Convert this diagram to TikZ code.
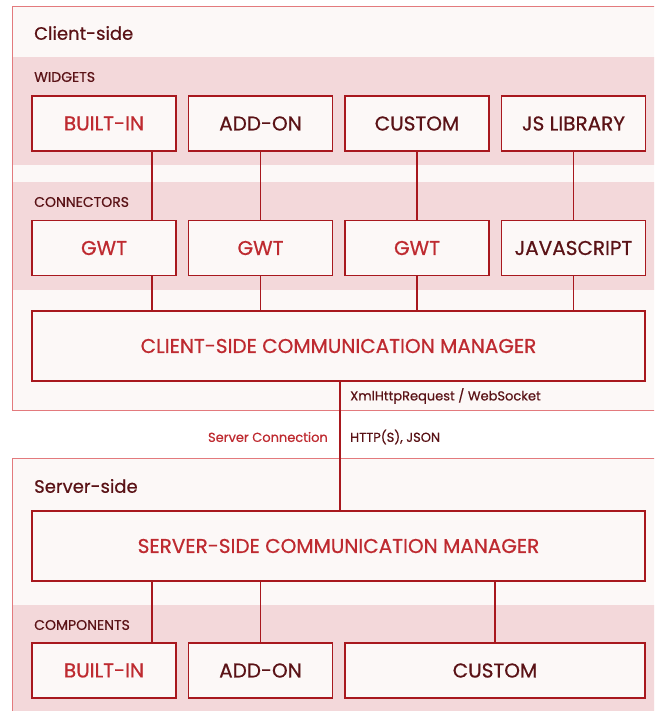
\documentclass[tikz,border=0pt]{standalone}
\usepackage{fontspec}
\setmainfont{Poppins}[FakeBold=0.6]
\usepackage{tikz}
\usetikzlibrary{positioning, calc}

\definecolor{vred}{HTML}{A8181E}
\definecolor{vtxt}{HTML}{BE2A30}
\definecolor{vdark}{HTML}{5A1216}
\definecolor{vpink}{HTML}{F3D8DA}
\definecolor{vpaper}{HTML}{FCF8F7}
\definecolor{vedge}{HTML}{E37A7D}

\tikzset{
  part/.style={draw=vred, line width=1.8pt, fill=vpaper, minimum height=55pt,
    inner sep=0pt, font=\fontsize{20}{22}\selectfont},
  manager/.style={part, minimum width=613pt, minimum height=70pt, text=vtxt},
  band/.style={fill=vpink},
  zone/.style={draw=vedge, line width=1pt, fill=vpaper},
  link/.style={draw=vred, line width=1.9pt},
  tag/.style={anchor=west, text=vdark, inner sep=0pt, font=\fontsize{14}{16}\selectfont},
  title/.style={anchor=west, text=vdark, inner sep=0pt, font=\fontsize{18}{20}\selectfont},
  note/.style={inner sep=0pt, text=vdark, font=\fontsize{13}{15}\selectfont}
}

\begin{document}
\begin{tikzpicture}[x=1pt, y=-1pt]
\useasboundingbox (0,0) rectangle (654,711);
\clip (0,0) rectangle (654,711);

% Client side area
\draw[zone] (12,7) rectangle (670,410);
\fill[band] (12.5,57) rectangle (670,165);
\fill[band] (12.5,182) rectangle (670,290);
\node[title] (clienttitle) at (34,33) {Client-side};
\node[tag] (widgetstag) at (34,77) {WIDGETS};
\node[tag] (connectorstag) at (34,202) {CONNECTORS};

% Widgets
\node[part, minimum width=144pt, text=vtxt] (wbuiltin) at (104,123.5) {BUILT-IN};
\node[part, minimum width=144pt, text=vdark] (waddon) at (260.5,123.5) {ADD-ON};
\node[part, minimum width=144pt, text=vdark] (wcustom) at (417,123.5) {CUSTOM};
\node[part, minimum width=144pt, text=vdark] (wjslib) at (573.5,123.5) {JS LIBRARY};

% Connectors
\node[part, minimum width=144pt, text=vtxt] (cgwta) at (104,248) {GWT};
\node[part, minimum width=144pt, text=vtxt] (cgwtb) at (260.5,248) {GWT};
\node[part, minimum width=144pt, text=vtxt] (cgwtc) at (417,248) {GWT};
\node[part, minimum width=144pt, text=vdark] (cjs) at (573.5,248) {JAVASCRIPT};

\node[manager] (cscm) at (338.5,346) {CLIENT-SIDE COMMUNICATION MANAGER};

% Server side area
\draw[zone] (12,458) rectangle (670,730);
\fill[band] (12.5,605) rectangle (670,730);
\node[title] (servertitle) at (34,486) {Server-side};
\node[tag] (componentstag) at (34,625) {COMPONENTS};

\node[manager] (sscm) at (338.5,546) {SERVER-SIDE COMMUNICATION MANAGER};

% Components
\node[part, minimum width=144pt, text=vtxt] (kbuiltin) at (104,670.5) {BUILT-IN};
\node[part, minimum width=144pt, text=vdark] (kaddon) at (260.5,670.5) {ADD-ON};
\node[part, minimum width=300pt, text=vdark] (kcustom) at (495,670.5) {CUSTOM};

% Links
\draw[link] ([xshift=48pt]wbuiltin.south) -- ([xshift=48pt]cgwta.north);
\draw[link] (waddon.south) -- (cgwtb.north);
\draw[link] (wcustom.south) -- (cgwtc.north);
\draw[link] (wjslib.south) -- (cjs.north);
\draw[link] ([xshift=48pt]cgwta.south) -- (cscm.north -| 152,0);
\draw[link] (cgwtb.south) -- (cscm.north -| cgwtb);
\draw[link] (cgwtc.south) -- (cscm.north -| cgwtc);
\draw[link] (cjs.south) -- (cscm.north -| cjs);
\draw[link] ([xshift=1.5pt]cscm.south) -- ([xshift=1.5pt]sscm.north);
\draw[link] (sscm.south -| 152,0) -- ([xshift=48pt]kbuiltin.north);
\draw[link] (sscm.south -| kaddon) -- (kaddon.north);
\draw[link] (sscm.south -| kcustom) -- (kcustom.north);

% Connection labels
\node[note, anchor=west] (xhr) at (350,396) {XmlHttpRequest / WebSocket};
\node[note, anchor=west] (http) at (350,437) {HTTP(S), JSON};
\node[note, anchor=east, text=vtxt] (srvconn) at (328,437) {Server Connection};
\end{tikzpicture}
\end{document}
